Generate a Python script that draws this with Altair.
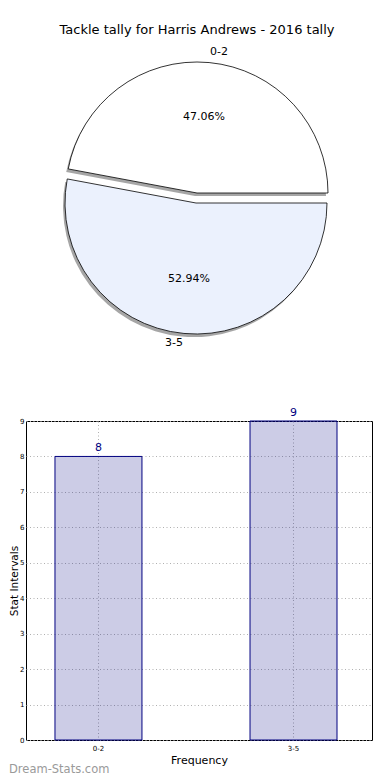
import math
import altair as alt
import pandas as pd

# ---- data ----
categories = ["0-2", "3-5"]
tackles = [8, 9]
chart_title = ["Tackle tally for Harris Andrews - 2016 tally"]
watermark = ["Dream-Stats.com"]
y_ticks = [0, 1, 2, 3, 4, 5, 6, 7, 8, 9]

df = pd.DataFrame({"category": categories, "tackles": tackles})
title_df = pd.DataFrame({"t": chart_title})
wm_df = pd.DataFrame({"t": watermark})

FONT = "DejaVu Sans"
NAVY = "#000080"

# ---- pie geometry (layout only) ----
PW, PH = 346, 400
cx, cy = 171, 185
ex_dx, ex_dy = -1, 10      # explode offset of the 3-5 wedge
sh_dx, sh_dy = -2, 3       # shadow offset
R = 131

theta_scale = alt.Scale(domain=[0, 1], range=[math.pi / 2, 5 * math.pi / 2])

pie_base = (
    alt.Chart(df)
    .transform_joinaggregate(total="sum(tackles)")
    .transform_window(cum="sum(tackles)", sort=[alt.SortField("category", order="descending")])
    .transform_calculate(
        start="(datum.cum - datum.tackles) / datum.total",
        end="datum.cum / datum.total",
        mid="(2 * datum.cum - datum.tackles) / (2 * datum.total)",
        pct="format(datum.tackles / datum.total * 100, '.2f') + '%'",
    )
)


def wedge(cat, dx, dy, **mark):
    return (
        pie_base.transform_filter(alt.datum.category == cat)
        .mark_arc(radius=R, **mark)
        .encode(
            theta=alt.Theta("start:Q", scale=theta_scale),
            theta2="end:Q",
            x=alt.value(cx + dx),
            y=alt.value(cy + dy),
        )
    )


def label(cat, dx, dy, radius, field, align):
    return (
        pie_base.transform_filter(alt.datum.category == cat)
        .mark_text(radius=radius, font=FONT, fontSize=11, align=align, baseline="middle", color="black")
        .encode(
            theta=alt.Theta("mid:Q", scale=theta_scale),
            x=alt.value(cx + dx),
            y=alt.value(cy + dy),
            text=alt.Text(field),
        )
    )


shadow_a = wedge("0-2", sh_dx, sh_dy, fill="#4d4d4d", opacity=0.5)
shadow_b = wedge("3-5", ex_dx + sh_dx, ex_dy + sh_dy, fill="#4d4d4d", opacity=0.5)
wedge_a = wedge("0-2", 0, 0, fill="white", stroke="black", strokeWidth=0.8)
wedge_b = wedge("3-5", ex_dx, ex_dy, fill="#ebf1fd", stroke="black", strokeWidth=0.8)

lab_a = label("0-2", 0, 0, 142, "category:N", "left")
lab_b = label("3-5", ex_dx, ex_dy, 141, "category:N", "right")
pct_a = label("0-2", 0, 0, 76, "pct:N", "center")
pct_b = label("3-5", ex_dx, ex_dy, 76, "pct:N", "center")

title_txt = (
    alt.Chart(title_df)
    .mark_text(font=FONT, fontSize=13, align="center", baseline="middle", color="black")
    .encode(x=alt.value(cx), y=alt.value(22), text="t:N")
)

pie = alt.layer(
    shadow_a, shadow_b, wedge_a, wedge_b, lab_a, lab_b, pct_a, pct_b, title_txt
).properties(width=PW, height=PH)

# ---- bar chart ----
BW, BH = 346, 319

x_scale = alt.Scale(paddingInner=0.554, paddingOuter=0.164, align=0.453)
y_scale = alt.Scale(domain=[0, 9], nice=False)

GRID_DASH = [1, 2.5]
GRID_COLOR = "#b0b0b0"

x_enc = alt.X(
    "category:N",
    scale=x_scale,
    axis=alt.Axis(
        title="Frequency", labelAngle=0, grid=True, bandPosition=0.5, ticks=False, domain=False,
        labelFontSize=7, labelFont=FONT, labelPadding=4, titleFont=FONT, titleFontSize=11,
        titleFontWeight="normal", titlePadding=3, gridDash=GRID_DASH, gridColor=GRID_COLOR,
        labelColor="black", titleColor="black",
    ),
)
y_enc = alt.Y(
    "tackles:Q",
    scale=y_scale,
    axis=alt.Axis(
        title="Stat Intervals", values=y_ticks, grid=True, ticks=False, domain=False,
        labelFontSize=7, labelFont=FONT, labelPadding=2, titleFont=FONT, titleFontSize=10.5,
        titleFontWeight="normal", titlePadding=0, gridDash=GRID_DASH, gridColor=GRID_COLOR,
        labelColor="black", titleColor="black", labelOverlap=False,
    ),
)

bars = alt.Chart(df).mark_bar(
    fill=NAVY, fillOpacity=0.2, stroke=NAVY, strokeWidth=1
).encode(x=x_enc, y=y_enc)

bar_text = alt.Chart(df).mark_text(
    font=FONT, fontSize=11, color=NAVY, baseline="bottom", dy=-3
).encode(x=x_enc, y=y_enc, text="tackles:Q")

wm = alt.Chart(wm_df).mark_text(
    font=FONT, fontSize=11.5, color="#9a9a9a", align="left", baseline="middle"
).encode(x=alt.value(-17), y=alt.value(BH + 30), text="t:N")

bar = alt.layer(bars, bar_text, wm).properties(
    width=BW, height=BH, view=alt.ViewBackground(stroke="black", strokeWidth=1)
)

chart = (
    alt.vconcat(pie, bar, spacing=13, bounds="flush")
    .properties(padding=0, background="white")
    .configure_view(stroke=None)
)

chart.save("out.html", embed_options={"renderer": "svg", "actions": False})
